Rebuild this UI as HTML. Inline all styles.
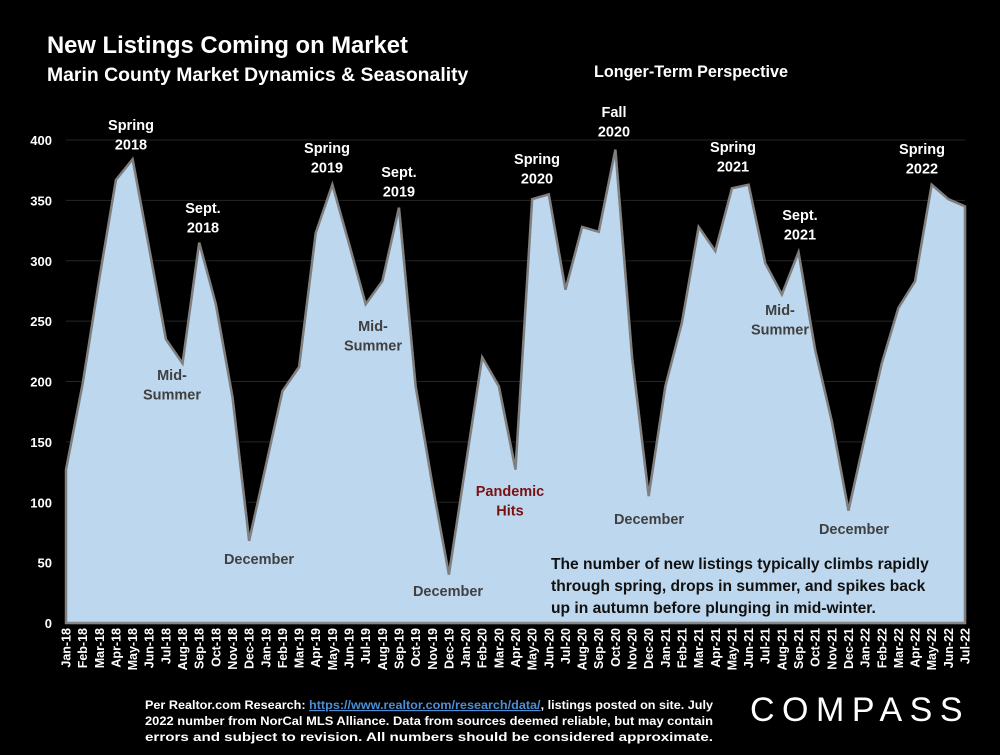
<!DOCTYPE html>
<html><head><meta charset="utf-8"><style>
body{margin:0;background:#000;width:1000px;height:750px;overflow:hidden;font-family:"Liberation Sans",sans-serif}
svg text{font-family:"Liberation Sans",sans-serif;font-weight:bold}
</style></head><body>
<svg id="chart" width="1000" height="750" viewBox="0 0 1000 750" xmlns="http://www.w3.org/2000/svg">
<defs><filter id="sh" x="-5%" y="-5%" width="110%" height="110%"><feDropShadow dx="3" dy="3" stdDeviation="2" flood-color="#000" flood-opacity="0.6"/></filter></defs>
<text x="47" y="53" fill="#fff" font-size="23.8">New Listings Coming on Market</text>
<text x="47" y="81" fill="#fff" font-size="19.4">Marin County Market Dynamics &amp; Seasonality</text>
<text x="594" y="77" fill="#fff" font-size="16.2">Longer-Term Perspective</text>
<g id="grid"></g>
<g id="area"></g>
<g id="yticks"></g>
<g id="xticks"></g>
<g id="notes" font-size="14.5" text-anchor="middle"></g>
<text font-size="15.6" fill="#111"><tspan x="551" y="569">The number of new listings typically climbs rapidly</tspan><tspan x="551" y="591">through spring, drops in summer, and spikes back</tspan><tspan x="551" y="613">up in autumn before plunging in mid-winter.</tspan></text>
<text font-size="11.5" fill="#fff">
<tspan x="145" y="709" textLength="568" lengthAdjust="spacingAndGlyphs">Per Realtor.com Research:  <tspan fill="#4a8fd6" text-decoration="underline">https://www.realtor.com/research/data/</tspan>, listings posted on site. July</tspan>
<tspan x="145" y="725" textLength="568" lengthAdjust="spacingAndGlyphs">2022 number from NorCal MLS Alliance. Data from sources deemed reliable, but may contain</tspan>
<tspan x="145" y="741" textLength="568" lengthAdjust="spacingAndGlyphs">errors and subject to revision. All numbers should be considered approximate.</tspan></text>
<text x="750" y="721" fill="#fff" font-size="34" style="font-weight:normal" letter-spacing="7.5">COMPASS</text>
</svg>
<script>
const months=["Jan-18","Feb-18","Mar-18","Apr-18","May-18","Jun-18","Jul-18","Aug-18","Sep-18","Oct-18","Nov-18","Dec-18","Jan-19","Feb-19","Mar-19","Apr-19","May-19","Jun-19","Jul-19","Aug-19","Sep-19","Oct-19","Nov-19","Dec-19","Jan-20","Feb-20","Mar-20","Apr-20","May-20","Jun-20","Jul-20","Aug-20","Sep-20","Oct-20","Nov-20","Dec-20","Jan-21","Feb-21","Mar-21","Apr-21","May-21","Jun-21","Jul-21","Aug-21","Sep-21","Oct-21","Nov-21","Dec-21","Jan-22","Feb-22","Mar-22","Apr-22","May-22","Jun-22","Jul-22"];
const listings=[127,198,285,367,384,310,235,215,315,264,187,68,130,192,212,323,363,314,264,283,344,196,115,40,130,220,196,127,351,355,276,328,324,392,220,105,196,249,328,308,360,363,298,272,307,226,167,93,155,215,261,283,363,351,345];
const yTicks=[0,50,100,150,200,250,300,350,400];
const notes=[
 {t:["Spring","2018"],x:131,y:130,c:"#fff"},{t:["Sept.","2018"],x:203,y:213,c:"#fff"},{t:["Mid-","Summer"],x:172,y:380,c:"#404040"},{t:["December"],x:259,y:564,c:"#404040"},
 {t:["Spring","2019"],x:327,y:153,c:"#fff"},{t:["Sept.","2019"],x:399,y:177,c:"#fff"},{t:["Mid-","Summer"],x:373,y:331,c:"#404040"},{t:["December"],x:448,y:596,c:"#404040"},
 {t:["Pandemic","Hits"],x:510,y:496,c:"#7a1111"},{t:["Spring","2020"],x:537,y:164,c:"#fff"},{t:["Fall","2020"],x:614,y:117,c:"#fff"},{t:["December"],x:649,y:524,c:"#404040"},
 {t:["Spring","2021"],x:733,y:152,c:"#fff"},{t:["Sept.","2021"],x:800,y:220,c:"#fff"},{t:["Mid-","Summer"],x:780,y:315,c:"#404040"},{t:["December"],x:854,y:534,c:"#404040"},
 {t:["Spring","2022"],x:922,y:154,c:"#fff"}];
const NS="http://www.w3.org/2000/svg";
const X0=66,X1=965,Y0=623,Y1=140;
const xs=i=>X0+(X1-X0)*i/(months.length-1);
const ys=v=>Y0-(Y0-Y1)*v/400;
function mk(tag,attrs,parent){const e=document.createElementNS(NS,tag);for(const k in attrs)e.setAttribute(k,attrs[k]);document.getElementById(parent).appendChild(e);return e;}
yTicks.forEach(v=>{
 const g=mk("line",{x1:X0,x2:X1,y1:ys(v),y2:ys(v),stroke:"#262626","stroke-width":1},"grid");
 
 
 const t=mk("text",{x:52,y:ys(v)+5,fill:"#fff","font-size":13,"text-anchor":"end"},"yticks");
 t.textContent=v;
 
 
});
let d="M"+xs(0)+","+Y0;
listings.forEach((v,i)=>{d+=" L"+xs(i)+","+ys(v);});
d+=" L"+xs(listings.length-1)+","+Y0+" Z";
const a=mk("path",{d:d,fill:"#bdd7ee",stroke:"#7f7f7f","stroke-width":2.5,"stroke-linejoin":"miter",filter:"url(#sh)"},"area");


const ax=mk("line",{x1:X0,x2:X1,y1:Y0,y2:Y0,stroke:"#888","stroke-width":1.5},"area");


months.forEach((m,i)=>{
 const t=mk("text",{transform:"translate("+(xs(i)+4.5)+",628) rotate(-90)",fill:"#fff","font-size":12.5,"text-anchor":"end"},"xticks");
 t.textContent=m;
 
 
});
notes.forEach(n=>{
 const t=mk("text",{fill:n.c},"notes");
 
 
 n.t.forEach((s,k)=>{const sp=document.createElementNS(NS,"tspan");sp.setAttribute("x",n.x);sp.setAttribute("y",n.y+k*19.5);sp.textContent=s;t.appendChild(sp);});
});
</script>
</body></html>
